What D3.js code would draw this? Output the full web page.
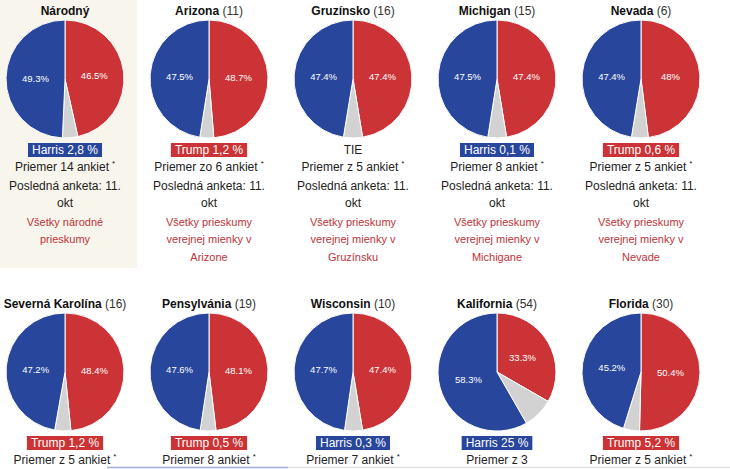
<!DOCTYPE html>
<html>
<head>
<meta charset="utf-8">
<script src="https://cdn.jsdelivr.net/npm/d3@7"></script>
<style>
  html, body { margin: 0; padding: 0; background: #fff; overflow: hidden; }
  svg { display: block; font-family: "Liberation Sans", Arial, Helvetica, sans-serif; }
</style>
</head>
<body>
<svg id="chart" width="730" height="469"></svg>
<script>
const states = ["Národný", "Arizona", "Gruzínsko", "Michigan", "Nevada",
                "Severná Karolína", "Pensylvánia", "Wisconsin", "Kalifornia", "Florida"];
const electoral = [null, 11, 16, 15, 6, 16, 19, 10, 54, 30];
const harris = [49.3, 47.5, 47.4, 47.5, 47.4, 47.2, 47.6, 47.7, 58.3, 45.2];
const trump  = [46.5, 48.7, 47.4, 47.4, 48, 48.4, 48.1, 47.4, 33.3, 50.4];
const leaderText  = ["Harris 2,8 %", "Trump 1,2 %", "TIE", "Harris 0,1 %", "Trump 0,6 %",
                     "Trump 1,2 %", "Trump 0,5 %", "Harris 0,3 %", "Harris 25 %", "Trump 5,2 %"];
const leaderParty = ["D", "R", "", "D", "R", "R", "R", "D", "D", "R"];
const pollText = ["Priemer 14 ankiet", "Priemer zo 6 ankiet", "Priemer z 5 ankiet", "Priemer 8 ankiet",
                  "Priemer z 5 ankiet", "Priemer z 5 ankiet", "Priemer 8 ankiet", "Priemer 7 ankiet",
                  "Priemer z 3", "Priemer z 5 ankiet"];
const pollStar = [true, true, true, true, true, true, true, true, false, true];
const lastPoll = ["Posledná anketa: 11.", "okt"];
const linkLines = [
  ["Všetky národné", "prieskumy"],
  ["Všetky prieskumy", "verejnej mienky v", "Arizone"],
  ["Všetky prieskumy", "verejnej mienky v", "Gruzínsku"],
  ["Všetky prieskumy", "verejnej mienky v", "Michigane"],
  ["Všetky prieskumy", "verejnej mienky v", "Nevade"],
  [], [], [], [], []
];

const BLUE = "#27469c", RED = "#cc3336", GRAY = "#d2d2d2";
const svg = d3.select("#chart");

const x = d3.scaleBand().domain(d3.range(5)).range([-7, 713]);
const yRow = d3.scaleOrdinal().domain([0, 1]).range([79, 372]);
const R = 59;

// highlighted national panel
svg.append("rect").attr("x", 0).attr("y", 0).attr("width", 137).attr("height", 268).attr("fill", "#f8f5ec");

const pie = d3.pie().sort(null).value(d => d.v);
const arc = d3.arc().innerRadius(0).outerRadius(R);
const labelArc = d3.arc().innerRadius(0).outerRadius(R);

states.forEach((name, i) => {
  const cx = x(i % 5) + x.bandwidth() / 2;
  const cy = yRow(Math.floor(i / 5));
  const g = svg.append("g").attr("transform", `translate(${cx},${cy})`);

  // title
  const t = g.append("text").attr("text-anchor", "middle").attr("y", -64)
    .attr("font-size", 12).attr("fill", "#111");
  t.append("tspan").attr("font-weight", "bold").text(name);
  if (electoral[i] != null) t.append("tspan").attr("fill", "#333").text(" (" + electoral[i] + ")");

  const data = [
    {k: "R", v: trump[i], c: RED},
    {k: "O", v: 100 - trump[i] - harris[i], c: GRAY},
    {k: "D", v: harris[i], c: BLUE}
  ];
  const arcs = pie(data);
  g.selectAll("path").data(arcs).join("path")
    .attr("d", arc).attr("fill", d => d.data.c)
    .attr("stroke", "#fff").attr("stroke-width", 1);
  g.selectAll("text.lbl").data(arcs.filter(d => d.data.k !== "O")).join("text")
    .attr("class", "lbl")
    .attr("transform", d => `translate(${labelArc.centroid(d)})`)
    .attr("text-anchor", "middle").attr("dy", "0.35em")
    .attr("font-size", 9.5).attr("fill", "#fff")
    .text(d => d.data.v + "%");

  // leader badge
  const badge = g.append("g");
  const bt = badge.append("text").attr("text-anchor", "middle").attr("y", 75)
    .attr("font-size", 12).text(leaderText[i]);
  if (leaderParty[i]) {
    const w = bt.node().getComputedTextLength() + 8;
    badge.insert("rect", "text").attr("x", -w / 2).attr("y", 64).attr("width", w).attr("height", 14)
      .attr("fill", leaderParty[i] === "D" ? BLUE : RED);
    bt.attr("fill", "#fff");
  } else {
    bt.attr("fill", "#222");
  }

  // poll text
  const p = g.append("text").attr("text-anchor", "middle").attr("y", 92)
    .attr("font-size", 12).attr("fill", "#222");
  p.append("tspan").text(pollText[i]);
  if (pollStar[i]) p.append("tspan").attr("font-size", 8).attr("dy", -5).attr("dx", 3).text("*");

  if (i < 5) {
    lastPoll.forEach((s, j) => {
      g.append("text").attr("text-anchor", "middle").attr("y", 110.5 + 17.5 * j)
        .attr("font-size", 12).attr("fill", "#222").text(s);
    });
  }
  linkLines[i].forEach((s, j) => {
    g.append("text").attr("text-anchor", "middle").attr("y", 146.5 + 17.5 * j)
      .attr("font-size", 11).attr("fill", "#c0333a").text(s);
  });
});

// bottom scrollbar-like line
svg.append("line").attr("x1", 107).attr("x2", 730).attr("y1", 467.5).attr("y2", 467.5)
  .attr("stroke", "#e2e2e2").attr("stroke-width", 1.5);
svg.append("line").attr("x1", 107).attr("x2", 288).attr("y1", 467.5).attr("y2", 467.5)
  .attr("stroke", "#aab3dd").attr("stroke-width", 1.5);
</script>
</body>
</html>
